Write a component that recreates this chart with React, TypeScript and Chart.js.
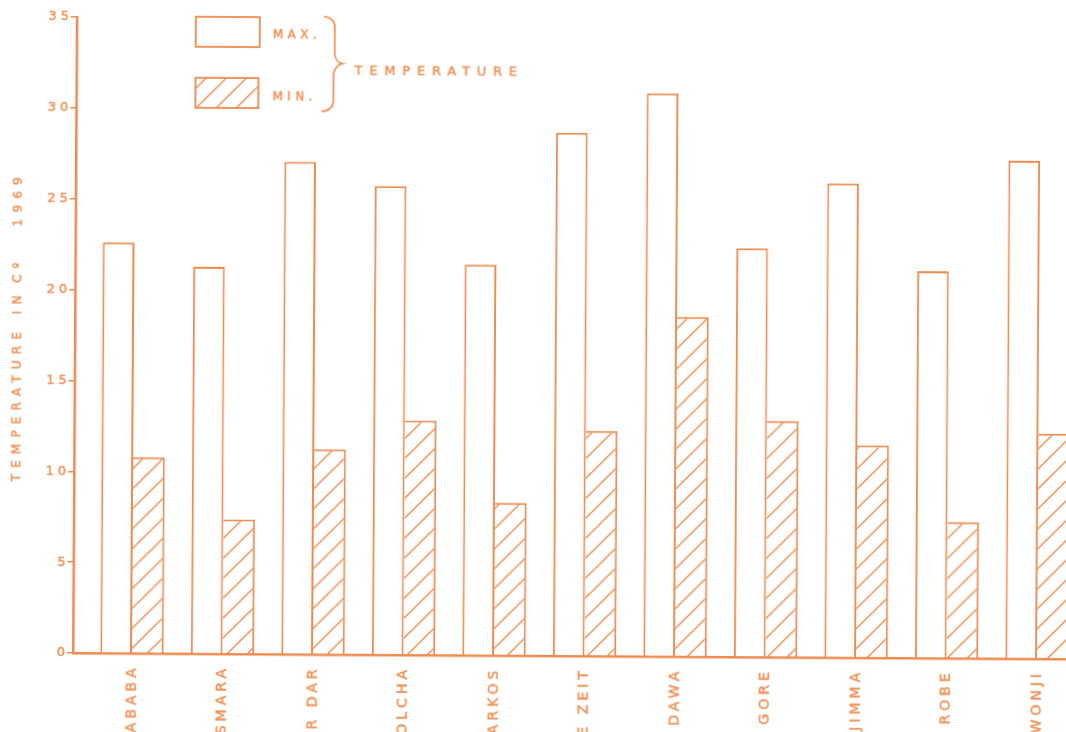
import React, { useEffect, useRef } from 'react';
import { Chart, registerables } from 'chart.js';

Chart.register(...registerables);

// ---- data ----
const stations = [
  'ADDIS ABABA', 'ASMARA', 'BAHIR DAR', 'KOMBOLCHA', 'DEBRE MARKOS',
  'DEBRE ZEIT', 'DIRE DAWA', 'GORE', 'JIMMA', 'ROBE', 'WONJI',
];
const maxTemps = [22.6, 21.3, 27.1, 25.8, 21.5, 28.8, 31.0, 22.5, 26.1, 21.3, 27.4];
const minTemps = [10.8, 7.4, 11.3, 12.9, 8.4, 12.4, 18.7, 13.0, 11.7, 7.5, 12.4];
const yTickValues = [0, 5, 10, 15, 20, 25, 30, 35];
const seriesLabels = ['MAX.', 'MIN.'];
const legendTitle = 'TEMPERATURE';
const axisTitleParts = ['TEMPERATURE', 'IN', 'Cº', '1969'];

// ---- style ----
const LINE = '#EE8A4E';
const TEXT = '#F0945A';
const FONT = "'DejaVu Sans', sans-serif";

function makeHatch(): CanvasPattern | string {
  const s = 20;
  const c = document.createElement('canvas');
  c.width = s;
  c.height = s;
  const g = c.getContext('2d');
  if (!g) return '#fff';
  g.fillStyle = '#ffffff';
  g.fillRect(0, 0, s, s);
  g.strokeStyle = LINE;
  g.lineWidth = 1.4;
  g.beginPath();
  g.moveTo(-2, s + 2);
  g.lineTo(s + 2, -2);
  g.moveTo(-2, 2);
  g.lineTo(2, -2);
  g.moveTo(s - 2, s + 2);
  g.lineTo(s + 2, s - 2);
  g.stroke();
  const p = g.createPattern(c, 'repeat');
  return p || '#fff';
}

function setSpacing(chart: any, px: number) {
  const ctx = chart.ctx as any;
  if (ctx) ctx.letterSpacing = px + 'px';
}

function heavyText(ctx: any, t: string, x: number, y: number) {
  ctx.fillText(t, x, y);
  ctx.strokeText(t, x, y);
}

export default function App() {
  const ref = useRef<HTMLCanvasElement>(null);

  useEffect(() => {
    const canvas = ref.current;
    if (!canvas) return;
    const hatch = makeHatch();

    const paper = {
      id: 'paper',
      beforeUpdate(chart: any) { setSpacing(chart, 4); },
      beforeLayout(chart: any) { setSpacing(chart, 4); },
      beforeDraw(chart: any) {
        const ctx = chart.ctx;
        ctx.save();
        ctx.fillStyle = '#ffffff';
        ctx.fillRect(0, 0, chart.width, chart.height);
        ctx.restore();
        setSpacing(chart, 4);
      },
      afterDraw(chart: any) {
        const ctx = chart.ctx as any;
        ctx.save();
        // legend boxes
        ctx.lineWidth = 1.8;
        ctx.strokeStyle = LINE;
        ctx.fillStyle = '#ffffff';
        ctx.fillRect(192, 16, 64, 30);
        ctx.strokeRect(192, 16, 64, 30);
        ctx.fillStyle = hatch;
        ctx.fillRect(192, 77, 63, 30);
        ctx.strokeRect(192, 77, 63, 30);

        // brace
        ctx.beginPath();
        ctx.lineWidth = 1.6;
        ctx.moveTo(320, 15);
        ctx.quadraticCurveTo(331, 16, 331, 26);
        ctx.lineTo(331, 52);
        ctx.quadraticCurveTo(332, 61, 339, 62);
        ctx.quadraticCurveTo(331, 64, 330, 73);
        ctx.lineTo(330, 99);
        ctx.quadraticCurveTo(330, 109, 318, 110);
        ctx.stroke();

        // legend labels
        ctx.fillStyle = TEXT;
        ctx.strokeStyle = TEXT;
        ctx.lineWidth = 0.5;
        ctx.textBaseline = 'middle';
        ctx.textAlign = 'left';
        ctx.font = `12px ${FONT}`;
        ctx.letterSpacing = '4.5px';
        heavyText(ctx, seriesLabels[0], 269, 34);
        heavyText(ctx, seriesLabels[1], 269, 96);

        ctx.font = `13px ${FONT}`;
        ctx.letterSpacing = '6.8px';
        heavyText(ctx, legendTitle, 351, 70);

        // y axis title (rotated)
        ctx.font = `12px ${FONT}`;
        ctx.letterSpacing = '6.2px';
        ctx.textAlign = 'center';
        const ys = [404, 302, 270, 199];
        axisTitleParts.forEach((t, i) => {
          ctx.save();
          ctx.translate(16, ys[i]);
          ctx.rotate(-Math.PI / 2);
          heavyText(ctx, t, 0, 0);
          ctx.restore();
        });
        ctx.restore();
        setSpacing(chart, 4);
      },
    };

    const chart = new Chart(canvas, {
      type: 'bar',
      data: {
        datasets: [
          {
            label: seriesLabels[0],
            data: maxTemps.map((v, i) => ({ x: i, y: v })),
            backgroundColor: '#ffffff',
            borderColor: LINE,
            borderWidth: 2,
          },
          {
            label: seriesLabels[1],
            data: minTemps.map((v, i) => ({ x: i, y: v })),
            backgroundColor: hatch as any,
            borderColor: LINE,
            borderWidth: { top: 2, right: 2, bottom: 0, left: 0 } as any,
          },
        ],
      },
      options: {
        responsive: false,
        animation: false,
        devicePixelRatio: 1,
        layout: { padding: { top: 17, left: 0, right: 0, bottom: 0 } },
        datasets: { bar: { barPercentage: 1, categoryPercentage: 0.7 } },
        plugins: {
          legend: { display: false },
          tooltip: { enabled: false },
          title: { display: false },
        },
        scales: {
          x: {
            type: 'linear',
            min: -0.652,
            max: 11.8,
            offset: false,
            grid: { display: false, offset: false },
            border: { display: true, color: LINE, width: 2.5 },
            ticks: {
              color: TEXT,
              textStrokeColor: TEXT,
              textStrokeWidth: 0.5,
              font: { family: FONT, size: 14 },
              padding: 3,
              minRotation: 90,
              maxRotation: 90,
              autoSkip: false,
              callback: (v: any) => stations[v as number] ?? '',
            },
            afterBuildTicks: (s: any) => {
              s.ticks = stations.map((_, i) => ({ value: i }));
            },
            afterFit: (s: any) => {
              s.height = 147;
            },
          },
          y: {
            min: 0,
            max: 35,
            ticks: {
              color: TEXT,
              textStrokeColor: TEXT,
              textStrokeWidth: 0.5,
              font: { family: FONT, size: 13 },
              padding: -2,
            },
            afterBuildTicks: (s: any) => {
              s.ticks = yTickValues.map((v) => ({ value: v }));
            },
            grid: {
              drawOnChartArea: false,
              drawTicks: true,
              tickLength: 6,
              color: LINE,
              lineWidth: 1.5,
            },
            border: { display: true, color: LINE, width: 2.5 },
            afterFit: (s: any) => {
              s.width = 73;
            },
          },
        },
      } as any,
      plugins: [paper as any],
    });

    return () => chart.destroy();
  }, []);

  return (
    <div
      style={{
        position: 'fixed',
        left: 0,
        top: 0,
        width: 1066,
        height: 732,
        overflow: 'hidden',
        background: '#ffffff',
      }}
    >
      <canvas
        ref={ref}
        width={1200}
        height={800}
        style={{
          display: 'block',
          width: 1200,
          height: 800,
          transform: 'rotate(0.35deg)',
          transformOrigin: '73px 653px',
        }}
      />
    </div>
  );
}
